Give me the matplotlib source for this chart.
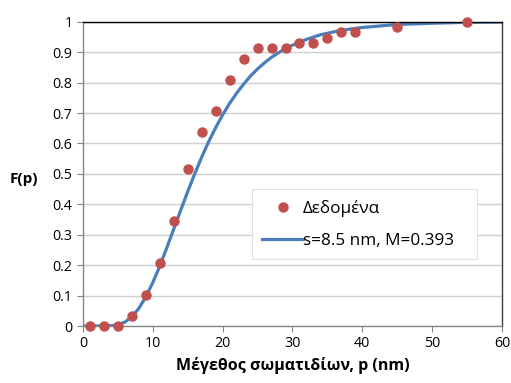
import numpy as np
import matplotlib
matplotlib.use('Agg')
import matplotlib.pyplot as plt

plt.rcParams['font.family'] = ['Open Sans', 'DejaVu Sans']

# measured data points
p_data = [1, 3, 5, 7, 9, 11, 13, 15, 17, 19, 21, 23, 25, 27, 29, 31, 33, 35, 37, 39, 45, 55]
F_data = [0, 0, 0, 0.034, 0.103, 0.207, 0.345, 0.517, 0.638, 0.707, 0.810, 0.879,
          0.914, 0.914, 0.914, 0.931, 0.931, 0.948, 0.966, 0.966, 0.983, 1.0]

# fitted curve
p_fit = [0, 2, 4, 5, 6, 7, 8, 9, 10, 11, 12, 13, 14, 15, 16, 17, 18, 19, 20, 21, 22,
         23, 24, 25, 26, 27, 28, 29, 30, 32, 34, 36, 38, 40, 45, 50, 55, 60]
F_fit = [0, 0, 0.001, 0.004, 0.013, 0.030, 0.058, 0.096, 0.143, 0.197, 0.257, 0.319,
         0.381, 0.442, 0.500, 0.555, 0.606, 0.652, 0.694, 0.732, 0.765, 0.795, 0.822,
         0.845, 0.865, 0.883, 0.898, 0.912, 0.923, 0.942, 0.957, 0.967, 0.975, 0.981,
         0.991, 0.995, 0.998, 0.999]

fig = plt.figure(figsize=(5.11, 3.83), dpi=100)
ax = fig.add_axes([0.1624, 0.1488, 0.82, 0.7945])

ax.plot(p_data, F_data, 'o', color='#C0504D', markersize=6.5, label='Δεδομένα',
        zorder=3, clip_on=False)
ax.plot(p_fit, F_fit, '-', color='#4A7EBB', linewidth=2.3, label='s=8.5 nm, M=0.393',
        zorder=2)

ax.set_xlim(0, 60)
ax.set_ylim(0, 1)
ax.set_xticks(np.arange(0, 61, 10))
ax.set_yticks(np.arange(0, 1.01, 0.1))
ax.set_yticklabels(['0', '0.1', '0.2', '0.3', '0.4', '0.5', '0.6', '0.7', '0.8', '0.9', '1'])
ax.grid(axis='y', color='#d0d0d0', linewidth=1)
ax.set_axisbelow(True)

for s in ['left', 'bottom']:
    ax.spines[s].set_color('#868686')
ax.spines['top'].set_color('black')
ax.spines['right'].set_color('#404040')
for s in ax.spines.values():
    s.set_linewidth(1)
ax.tick_params(axis='both', direction='out', length=4, color='#868686',
               labelsize=10.3, labelcolor='black')

ax.set_xlabel('Μέγεθος σωματιδίων, p (nm)', fontsize=11.5, fontweight='bold', labelpad=4)
ax.set_ylabel('F(p)', fontsize=11, fontweight='bold', rotation=0)
ax.yaxis.set_label_coords(-0.14, 0.46)

leg = ax.legend(loc='lower left', bbox_to_anchor=(0.403, 0.22, 0.537, 0.227),
                mode='expand', fontsize=12.3, frameon=True, fancybox=False,
                edgecolor='#e0e0e0', framealpha=1, handlelength=2.4,
                borderpad=0.6, labelspacing=0.95, handletextpad=0.0,
                borderaxespad=0)
leg.get_frame().set_linewidth(0.8)

fig.savefig('out.png', dpi=100)
